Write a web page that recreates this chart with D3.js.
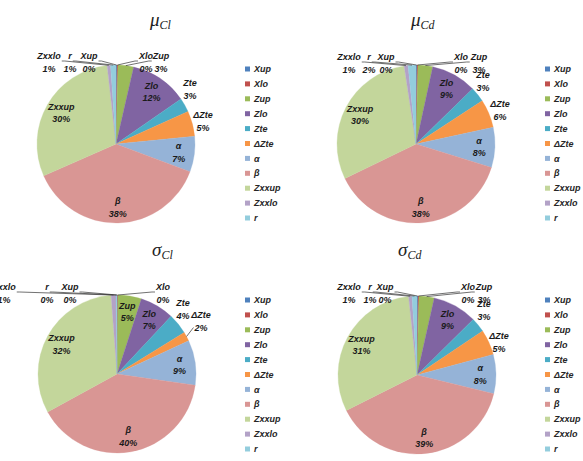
<!DOCTYPE html>
<html>
<head>
<meta charset="utf-8">
<script src="https://d3js.org/d3.v7.min.js"></script>
<style>
  body { margin: 0; background: #fff; }
  .lbl { font-family: "Liberation Sans", Arial, sans-serif; font-size: 9px; font-weight: bold; font-style: italic; fill: #1a1a1a; }
  .leg { font-family: "Liberation Sans", Arial, sans-serif; font-size: 9px; font-weight: bold; font-style: italic; fill: #262626; }
  .ttl { font-family: "Liberation Serif", "Times New Roman", serif; font-style: italic; fill: #222; }
  .leader { stroke: #333; stroke-width: 0.7px; fill: none; }
</style>
</head>
<body>
<div id="chart"></div>
<script>
// categories (pie order, clockwise from 12 o'clock)
const names = ["Xup", "Xlo", "Zup", "Zlo", "Zte", "ΔZte", "α", "β", "Zxxup", "Zxxlo", "r"];
const colors = ["#4F81BD", "#C0504D", "#9BBB59", "#8064A2", "#4BACC6", "#F79646",
                "#95B3D7", "#D99694", "#C3D69B", "#B3A2C7", "#93CDDD"];

// shares (%)
const muCl    = [0.2, 0.2, 3.2, 11.8, 2.9, 5.2, 7.3, 37.8, 29.9, 0.7, 1.1];
const muCd    = [0.2, 0.2, 3.0, 9.3, 3.1, 5.8, 8.2, 38.0, 29.8, 0.8, 1.6];
const sigmaCl = [0.1, 0.1, 4.8, 7.0, 4.2, 1.9, 9.2, 39.8, 31.8, 1.0, 0.2];
const sigmaCd = [0.2, 0.2, 3.1, 9.1, 3.0, 5.2, 8.0, 38.8, 30.7, 0.7, 1.0];

const W = 583, H = 461;
const svg = d3.select("#chart").append("svg").attr("width", W).attr("height", H);

// where each panel sits, and where Excel pushed the small labels
const panels = [
  { values: muCl, sym: "μ", sub: "Cl", cx: 116, cy: 144, tx: 150, ty: 26, lx: 245, ly: 69,
    inside: ["Zlo", "α", "β", "Zxxup"],
    spots: { "Zxxlo": [-67, -88, "R"], "r": [-46, -88, "R"], "Xup": [-27, -88, "R"],
             "Xlo": [30, -88, "L"], "Zup": [45, -88, "L"], "Zte": [74, -61], "ΔZte": [87, -29] } },
  { values: muCd, sym: "μ", sub: "Cd", cx: 416, cy: 144, tx: 411, ty: 26, lx: 545, ly: 69,
    inside: ["Zlo", "α", "β", "Zxxup"],
    spots: { "Zxxlo": [-67, -87, "R"], "r": [-47, -87, "R"], "Xup": [-30, -87, "R"],
             "Xlo": [45, -87, "L"], "Zup": [63, -87, "L"], "Zte": [67, -69], "ΔZte": [84, -40] } },
  { values: sigmaCl, sym: "σ", sub: "Cl", cx: 117, cy: 374, tx: 152, ty: 256, lx: 245, ly: 300,
    inside: ["Zup", "Zlo", "α", "β", "Zxxup"],
    spots: { "Zxxlo": [-113, -87, "R"], "r": [-70, -87, "R"], "Xup": [-47, -87, "R"],
             "Xlo": [46, -87, "L"], "Zte": [66, -71], "ΔZte": [84, -59, "L2"] } },
  { values: sigmaCd, sym: "σ", sub: "Cd", cx: 417, cy: 375, tx: 398, ty: 256, lx: 545, ly: 300,
    inside: ["Zlo", "α", "β", "Zxxup"],
    spots: { "Zxxlo": [-68, -88, "R"], "r": [-47, -88, "R"], "Xup": [-32, -88, "R"],
             "Xlo": [51, -88, "L"], "Zup": [67, -88, "L"], "Zte": [67, -71], "ΔZte": [82, -39] } }
];

const R = 79;
const pie = d3.pie().sort(null).value(d => d.v);
const arc = d3.arc().innerRadius(0).outerRadius(R);
const labelArc = d3.arc().innerRadius(R * 0.8).outerRadius(R * 0.8);

panels.forEach(p => {
  const rows = names.map((n, i) => ({ name: n, v: p.values[i], color: colors[i] }));
  const total = d3.sum(rows, d => d.v);
  const arcs = pie(rows);

  const g = svg.append("g").attr("transform", `translate(${p.cx},${p.cy})`);

  g.selectAll("path.slice")
    .data(arcs)
    .enter()
    .append("path")
    .attr("class", "slice")
    .attr("d", arc)
    .attr("fill", d => d.data.color)
    .attr("stroke", d => d.data.color)
    .attr("stroke-width", 0.3);

  // data labels
  arcs.forEach(a => {
    const pct = Math.round(a.data.v / total * 100) + "%";
    let x, y, spot = p.spots[a.data.name];
    if (p.inside.includes(a.data.name)) {
      const c = labelArc.centroid(a);
      x = c[0]; y = c[1] - 6;
    } else if (spot) {
      x = spot[0]; y = spot[1];
    } else {
      return;
    }
    const t1 = g.append("text").attr("class", "lbl").attr("x", x).attr("y", y)
      .attr("dy", "0.35em").attr("text-anchor", "middle").text(a.data.name);
    const t2 = g.append("text").attr("class", "lbl").attr("x", x).attr("y", y + 12.5)
      .attr("dy", "0.35em").attr("text-anchor", "middle").text(pct);

    if (spot && spot[2]) {
      const mid = (a.startAngle + a.endAngle) / 2;
      const ex = Math.sin(mid) * R, ey = -Math.cos(mid) * R;
      let sx, sy;
      if (spot[2] === "R") {
        sx = x + t1.node().getComputedTextLength() / 2 + 1; sy = y + 5;
      } else if (spot[2] === "L") {
        sx = x - t1.node().getComputedTextLength() / 2 - 1; sy = y + 5;
      } else {
        sx = x - t2.node().getComputedTextLength() / 2 - 1; sy = y + 12.5;
      }
      g.append("path").attr("class", "leader")
        .attr("d", spot[2] === "L2"
          ? `M${sx},${sy}L${ex},${ey}`
          : `M${sx},${sy}L${sx + (spot[2] === "R" ? 3 : -3)},${sy}L${ex},${ey}`);
    }
  });

  // title
  const tt = svg.append("text").attr("class", "ttl").attr("x", p.tx).attr("y", p.ty);
  tt.append("tspan").attr("font-size", 19).text(p.sym);
  tt.append("tspan").attr("font-size", 12).attr("dy", 3).text(p.sub);

  // legend
  const y = d3.scalePoint().domain(names).range([p.ly, p.ly + 149]);
  const leg = svg.append("g");
  leg.selectAll("rect")
    .data(rows)
    .enter()
    .append("rect")
    .attr("x", p.lx)
    .attr("y", d => y(d.name) - 2.5)
    .attr("width", 5)
    .attr("height", 5)
    .attr("fill", d => d.color);
  leg.selectAll("text")
    .data(rows)
    .enter()
    .append("text")
    .attr("class", "leg")
    .attr("x", p.lx + 9)
    .attr("y", d => y(d.name))
    .attr("dy", "0.35em")
    .text(d => d.name);
});
</script>
</body>
</html>
